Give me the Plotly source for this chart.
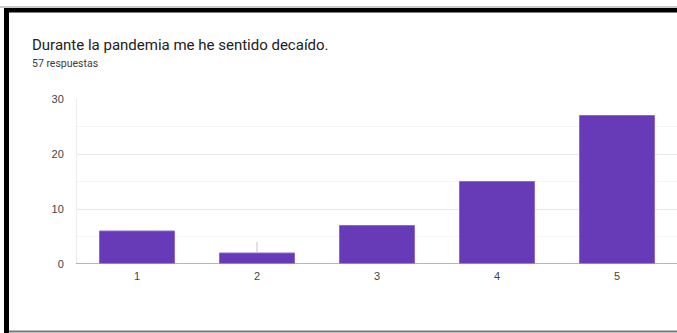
import plotly.graph_objects as go

# Survey answers: scale 1-5
categories = ["1", "2", "3", "4", "5"]
counts = [6, 2, 7, 15, 27]
upper_whisker = [0, 2, 0, 0, 0]
y_ticks = [0, 10, 20, 30]

W, H = 677, 333
L, R, T, B = 77, 0, 99, 69
plot_w = W - L - R
plot_h = H - T - B


def px_x(px):
    return (px - L) / plot_w


def px_y(py):
    return (H - B - py) / plot_h


fig = go.Figure(
    go.Bar(
        x=categories,
        y=counts,
        marker=dict(color="#673ab7", line=dict(color="#8a6ad0", width=1)),
        width=0.625,
        error_y=dict(
            type="data",
            symmetric=False,
            array=upper_whisker,
            arrayminus=[0] * len(counts),
            color="#c4c4c4",
            thickness=1,
            width=0,
        ),
        hoverinfo="skip",
    )
)

frame = [
    # thin grey rule above the dark frame
    dict(type="line", x0=px_x(0), x1=px_x(W), y0=px_y(7), y1=px_y(7),
         line=dict(color="#9a9a9a", width=1)),
    # dark top frame band
    dict(type="rect", x0=px_x(4), x1=px_x(W + 2), y0=px_y(8), y1=px_y(12.5),
         fillcolor="#000000", line=dict(width=0)),
    # dark left frame band
    dict(type="rect", x0=px_x(4), x1=px_x(9), y0=px_y(8), y1=px_y(H + 2),
         fillcolor="#000000", line=dict(width=0)),
    # grey bottom rule
    dict(type="line", x0=px_x(9), x1=px_x(W + 2), y0=px_y(331.5), y1=px_y(331.5),
         line=dict(color="#7a7a7a", width=2)),
    # grey baseline under the bars
    dict(type="line", x0=px_x(76), x1=px_x(W + 2), y0=0, y1=0, xref="paper", yref="y",
         line=dict(color="#9e9e9e", width=1.5)),
]
for s in frame:
    s.setdefault("xref", "paper")
    s.setdefault("yref", "paper")
    s["layer"] = "above"

fig.update_layout(
    width=W,
    height=H,
    margin=dict(l=L, r=R, t=T, b=B, pad=0),
    paper_bgcolor="#ffffff",
    plot_bgcolor="#ffffff",
    showlegend=False,
    bargap=0.375,
    font=dict(family="Liberation Sans, Arial, sans-serif", size=11, color="#444444"),
    xaxis=dict(
        type="category",
        range=[-0.5, 4.5],
        showgrid=False,
        showline=False,
        zeroline=False,
        ticks="",
        ticklabelstandoff=4,
        tickfont=dict(size=11, color="#444444"),
        fixedrange=True,
    ),
    yaxis=dict(
        range=[0, 30],
        tickvals=y_ticks,
        showgrid=True,
        gridcolor="#e9e9e9",
        gridwidth=1,
        minor=dict(dtick=5, showgrid=True, gridcolor="#f4f4f4", gridwidth=1),
        zeroline=False,
        showline=True,
        linecolor="#ececec",
        linewidth=1,
        ticks="",
        ticklabelstandoff=10,
        tickfont=dict(size=11, color="#444444"),
        fixedrange=True,
    ),
    shapes=frame,
    annotations=[
        dict(
            text="Durante la pandemia me he sentido decaído.",
            xref="paper", yref="paper",
            x=px_x(29.5), y=px_y(34),
            xanchor="left", yanchor="top",
            showarrow=False,
            font=dict(family="Roboto, Arial, sans-serif", size=15, color="#202124"),
        ),
        dict(
            text="57 respuestas",
            xref="paper", yref="paper",
            x=px_x(30), y=px_y(55.5),
            xanchor="left", yanchor="top",
            showarrow=False,
            font=dict(family="Roboto, Arial, sans-serif", size=10.5, color="#3c3c3c"),
        ),
    ],
)

fig.write_html("out.html", config={"displayModeBar": False})
